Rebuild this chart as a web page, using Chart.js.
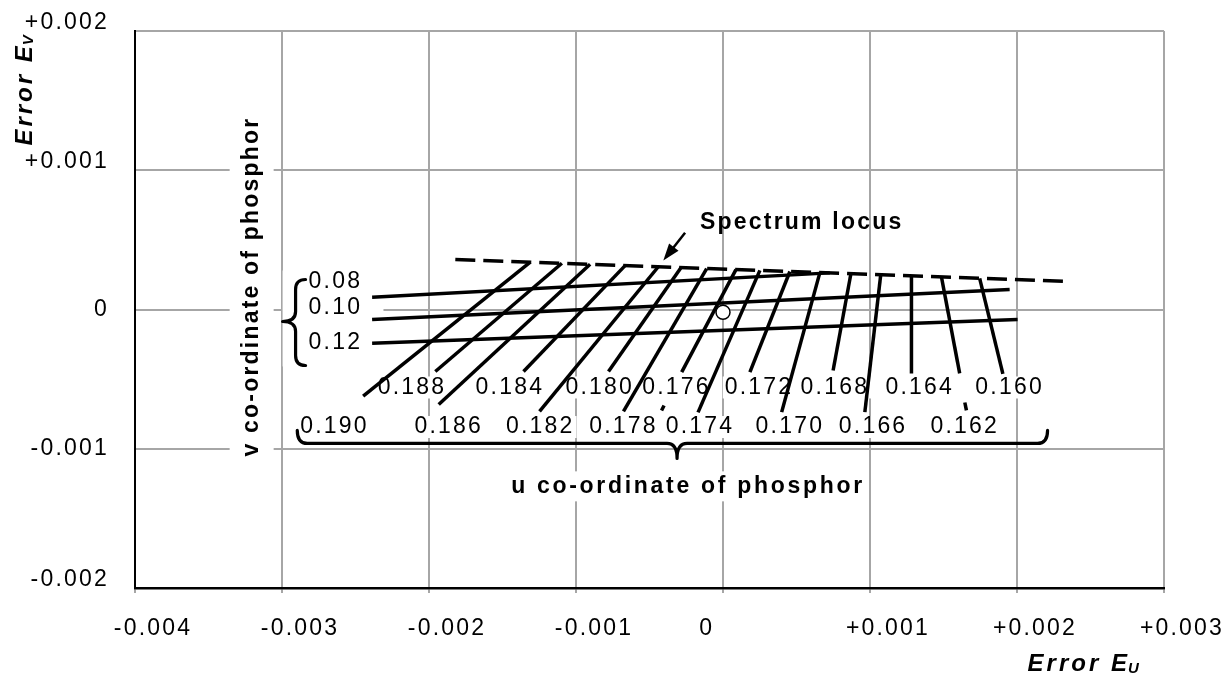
<!DOCTYPE html>
<html><head><meta charset="utf-8">
<script src="https://cdn.jsdelivr.net/npm/chart.js@4/dist/chart.umd.min.js"></script>
<style>html,body{margin:0;padding:0;background:#fff}#c{display:block}</style>
</head><body>
<canvas id="c" width="1230" height="673" style="width:1230px;height:673px"></canvas>
<script>
// ---------- tick labels ----------
const X_TICK_VALUES = [-4, -3, -2, -1, 0, 1, 2, 3];          // thousandths
const X_TICK_LABELS = ['-0.004', '-0.003', '-0.002', '-0.001', '0', '+0.001', '+0.002', '+0.003'];
const Y_TICK_VALUES = [-2, -1, 0, 1, 2];
const Y_TICK_LABELS = ['-0.002', '-0.001', '0', '+0.001', '+0.002'];
const Y_TICK_RAISED = [true, false, false, true, true];      // labels printed slightly above their grid line

// ---------- lines of constant v ----------
const V_LABELS  = ['0.08', '0.10', '0.12'];
const V_X_START = [-0.002387, -0.002387, -0.002387];
const V_Y_START = [0.0000883, -0.0000718, -0.000242];
const V_X_END   = [0.000727, 0.00195, 0.002004];
const V_Y_END   = [0.000263, 0.0001436, -0.0000718];
const V_LABEL_X = [-0.002819, -0.002819, -0.002819];
const V_LABEL_Y = [0.000197, 0.000011, -0.000241];

// ---------- lines of constant u ----------
const U_LABELS = ['0.190','0.188','0.186','0.184','0.182','0.180','0.178','0.176',
                  '0.174','0.172','0.170','0.168','0.166','0.164','0.162','0.160'];
const U_TOP_X = [-0.001311,-0.001096,-0.000904,-0.000666,-0.000440,-0.000285,-0.000111,0.000088,
                  0.000251,0.000455,0.000659,0.000870,0.001073,0.001282,0.001486,0.001746];
const U_TOP_Y = [0.000340,0.000332,0.000325,0.000315,0.000307,0.000301,0.000294,0.000286,
                 0.000281,0.000273,0.000265,0.000257,0.000250,0.000242,0.000234,0.000224];
const U_BOT_X = [-0.002448,-0.001957,-0.001934,-0.001357,-0.001248,-0.000779,-0.000677,-0.000281,
                 -0.000170,0.000183,0.000399,0.000749,0.000965,0.001282,0.001610,0.001904];
const U_BOT_Y = [-0.000622,-0.000445,-0.000682,-0.000445,-0.000732,-0.000445,-0.000732,-0.000450,
                 -0.000739,-0.000450,-0.000737,-0.000438,-0.000737,-0.000459,-0.000459,-0.000462];
const U_LABEL_X = [-0.002643,-0.002116,-0.001866,-0.001450,-0.001243,-0.000839,-0.000677,-0.000316,
                   -0.000156,0.000245,0.000455,0.000761,0.001021,0.001338,0.001644,0.001950];
const U_LABEL_Y = [-0.000844,-0.000560,-0.000844,-0.000560,-0.000844,-0.000560,-0.000844,-0.000560,
                   -0.000844,-0.000560,-0.000844,-0.000560,-0.000844,-0.000560,-0.000844,-0.000560];
// short visible pieces of u lines below the label row
const FRAG_X0 = [-0.000401, 0.001645];
const FRAG_Y0 = [-0.000689, -0.000668];
const FRAG_X1 = [-0.000418, 0.001656];
const FRAG_Y1 = [-0.000725, -0.000725];

// ---------- spectrum locus ----------
const LOCUS_X = [-0.001821, 0.002357];
const LOCUS_Y = [0.000359, 0.000201];

// ---------- marked point ----------
const POINT_X = [0];
const POINT_Y = [-0.00002];

// ---------- annotations (data units) ----------
const ARROW_X = [-0.000258, -0.000406];
const ARROW_Y = [0.000551, 0.000352];
const LOCUS_TEXT = 'Spectrum locus';
const LOCUS_TEXT_POS = [-0.000156, 0.000625];
const V_TITLE = 'v co-ordinate of phosphor';
const V_TITLE_POS = [-0.0032065, 0.000165];
const U_TITLE = 'u co-ordinate of phosphor';
const U_TITLE_POS = [-0.000238, -0.001270];
const V_BRACE = { spine: -0.0029076, tip: -0.0029959, end: -0.0028397, top: 0.0002154, bottom: -0.000402, mid: -0.0000861 };
const U_BRACE = { left: -0.0028961, right: 0.0022079, end: -0.0008686, spine: -0.000962, tipX: -0.0003125, tipY: -0.0010696 };
const V_BOX = [-0.0029959, -0.0023098, 0.00028, -0.000409];
const AXIS_Y_TITLE = ['Error E', 'V'];
const AXIS_Y_TITLE_POS = [-0.004749, 0.001177];
const AXIS_X_TITLE = ['Error E', 'U'];
const AXIS_X_TITLE_POS = [0.002072, -0.002549];

const FONT = '"Liberation Sans", Arial, Helvetica, sans-serif';
const LINE_W = 3.5;

function seg(x0, y0, x1, y1) { return [{x: x0, y: y0}, {x: x1, y: y1}]; }
const lineStyle = { showLine: true, borderColor: '#000', borderWidth: LINE_W, pointRadius: 0, borderCapStyle: 'butt', fill: false };

const datasets = [];
datasets.push({ data: POINT_X.map((x, i) => ({x, y: POINT_Y[i]})), pointRadius: 7, pointBackgroundColor: '#fff',
  pointBorderColor: '#000', pointBorderWidth: 1.5, showLine: false });
V_LABELS.forEach((l, i) => datasets.push(Object.assign({ label: 'v=' + l, data: seg(V_X_START[i], V_Y_START[i], V_X_END[i], V_Y_END[i]) }, lineStyle)));
U_LABELS.forEach((l, i) => datasets.push(Object.assign({ label: 'u=' + l, data: seg(U_TOP_X[i], U_TOP_Y[i], U_BOT_X[i], U_BOT_Y[i]) }, lineStyle)));
FRAG_X0.forEach((x, i) => datasets.push(Object.assign({ label: 'frag' + i, data: seg(x, FRAG_Y0[i], FRAG_X1[i], FRAG_Y1[i]) }, lineStyle)));
datasets.push(Object.assign({ label: 'Spectrum locus', data: seg(LOCUS_X[0], LOCUS_Y[0], LOCUS_X[1], LOCUS_Y[1]) }, lineStyle, { borderDash: [20, 8], borderWidth: 3.6 }));

function drawText(ctx, s, x, y, o) {
  ctx.save();
  ctx.font = o.font; ctx.letterSpacing = (o.ls || 0) + 'px';
  ctx.textAlign = o.align || 'center'; ctx.textBaseline = 'middle';
  ctx.translate(x, y); if (o.rot) ctx.rotate(o.rot);
  if (o.box) {
    const w = ctx.measureText(s).width;
    const x0 = o.align === 'left' ? 0 : o.align === 'right' ? -w : -w / 2;
    ctx.fillStyle = '#fff';
    ctx.fillRect(x0 - o.padX, -o.h / 2 - o.padY, w + 2 * o.padX, o.h + 2 * o.padY);
  }
  ctx.fillStyle = '#000'; ctx.fillText(s, 0, 0);
  ctx.restore();
}

const annot = {
  id: 'annot',
  beforeDraw(chart) { chart.ctx.letterSpacing = '2.2px'; },
  beforeDatasetsDraw(chart) {
    const ctx = chart.ctx, X = v => chart.scales.x.getPixelForValue(v), Y = v => chart.scales.y.getPixelForValue(v);
    ctx.save(); ctx.fillStyle = '#fff';
    ctx.fillRect(X(V_BOX[0]), Y(V_BOX[2]), X(V_BOX[1]) - X(V_BOX[0]), Y(V_BOX[3]) - Y(V_BOX[2]));
    ctx.restore();
    const num = { font: '23px ' + FONT, ls: 2.2, box: true, padX: 2, padY: 1, h: 20 };
    V_LABELS.forEach((l, i) => drawText(ctx, l, X(V_LABEL_X[i]), Y(V_LABEL_Y[i]), Object.assign({}, num, {align: 'left'})));
    U_LABELS.forEach((l, i) => drawText(ctx, l, X(U_LABEL_X[i]), Y(U_LABEL_Y[i]), num));
    const bold = { font: 'bold 23px ' + FONT, ls: 2.2, box: true, padX: 4, padY: 4, h: 22 };
    drawText(ctx, V_TITLE, X(V_TITLE_POS[0]), Y(V_TITLE_POS[1]), Object.assign({}, bold, { rot: -Math.PI / 2, padY: 11, padX: 6 }));
    drawText(ctx, U_TITLE, X(U_TITLE_POS[0]), Y(U_TITLE_POS[1]), Object.assign({}, bold, { ls: 2.7 }));
    drawText(ctx, LOCUS_TEXT, X(LOCUS_TEXT_POS[0]), Y(LOCUS_TEXT_POS[1]), Object.assign({}, bold, { align: 'left', box: false }));
    ctx.save(); ctx.strokeStyle = '#000'; ctx.lineWidth = 3.2; ctx.lineCap = 'round'; ctx.lineJoin = 'round';
    const b = V_BRACE, sx = X(b.spine), tx = X(b.tip), ex = X(b.end), ty = Y(b.top), by = Y(b.bottom), my = Y(b.mid), r = 10;
    ctx.beginPath();
    ctx.moveTo(ex, ty); ctx.quadraticCurveTo(sx, ty, sx, ty + r);
    ctx.lineTo(sx, my - r); ctx.quadraticCurveTo(sx, my, tx, my);
    ctx.quadraticCurveTo(sx, my, sx, my + r);
    ctx.lineTo(sx, by - r); ctx.quadraticCurveTo(sx, by, ex, by);
    ctx.stroke();
    const h = U_BRACE, lx = X(h.left), rx = X(h.right), ey = Y(h.end), spy = Y(h.spine), tpx = X(h.tipX), tpy = Y(h.tipY);
    ctx.beginPath();
    ctx.moveTo(lx, ey); ctx.quadraticCurveTo(lx, spy, lx + r, spy);
    ctx.lineTo(tpx - r, spy); ctx.quadraticCurveTo(tpx, spy, tpx, tpy);
    ctx.quadraticCurveTo(tpx, spy, tpx + r, spy);
    ctx.lineTo(rx - r, spy); ctx.quadraticCurveTo(rx, spy, rx, ey);
    ctx.stroke();
    ctx.restore();
  },
  afterDatasetsDraw(chart) {
    const ctx = chart.ctx, X = v => chart.scales.x.getPixelForValue(v), Y = v => chart.scales.y.getPixelForValue(v);
    const x0 = X(ARROW_X[0]), y0 = Y(ARROW_Y[0]), x1 = X(ARROW_X[1]), y1 = Y(ARROW_Y[1]);
    const a = Math.atan2(y1 - y0, x1 - x0), L = 17, W = 6;
    ctx.save(); ctx.strokeStyle = '#000'; ctx.fillStyle = '#000'; ctx.lineWidth = 2.5;
    ctx.beginPath(); ctx.moveTo(x0, y0); ctx.lineTo(x1 - Math.cos(a) * L * 0.8, y1 - Math.sin(a) * L * 0.8); ctx.stroke();
    ctx.beginPath(); ctx.moveTo(x1, y1);
    ctx.lineTo(x1 - Math.cos(a) * L - Math.sin(a) * W, y1 - Math.sin(a) * L + Math.cos(a) * W);
    ctx.lineTo(x1 - Math.cos(a) * L + Math.sin(a) * W, y1 - Math.sin(a) * L - Math.cos(a) * W);
    ctx.closePath(); ctx.fill();
    ctx.restore();
  },
  afterDraw(chart) {
    const ctx = chart.ctx, X = v => chart.scales.x.getPixelForValue(v), Y = v => chart.scales.y.getPixelForValue(v);
    const big = 'italic bold 24px ' + FONT, small = 'italic bold 15px ' + FONT;
    ctx.save(); ctx.letterSpacing = '3px'; ctx.fillStyle = '#000'; ctx.textBaseline = 'middle'; ctx.textAlign = 'left';
    ctx.translate(X(AXIS_Y_TITLE_POS[0]), Y(AXIS_Y_TITLE_POS[1])); ctx.rotate(-Math.PI / 2);
    ctx.font = big; ctx.fillText(AXIS_Y_TITLE[0], 0, 0);
    let w = ctx.measureText(AXIS_Y_TITLE[0]).width;
    ctx.font = small; ctx.fillText(AXIS_Y_TITLE[1], w - 2, 4);
    ctx.restore();
    ctx.save(); ctx.letterSpacing = '3px'; ctx.fillStyle = '#000'; ctx.textBaseline = 'middle'; ctx.textAlign = 'left';
    ctx.translate(X(AXIS_X_TITLE_POS[0]), Y(AXIS_X_TITLE_POS[1]));
    ctx.font = big; ctx.fillText(AXIS_X_TITLE[0], 0, 0);
    w = ctx.measureText(AXIS_X_TITLE[0]).width;
    ctx.font = small; ctx.fillText(AXIS_X_TITLE[1], w - 2, 4);
    ctx.restore();
  }
};

function xTickLabel(v) {
  const i = X_TICK_VALUES.indexOf(Math.round(v * 1000));
  if (i < 0) return '';
  // the "0" label sits left of its grid line in the original
  return X_TICK_LABELS[i] === '0' ? '0' + '\u00A0'.repeat(8) : X_TICK_LABELS[i];
}
function yTickLabel(v) {
  const i = Y_TICK_VALUES.indexOf(Math.round(v * 1000));
  if (i < 0) return '';
  return Y_TICK_RAISED[i] ? [Y_TICK_LABELS[i], ''] : Y_TICK_LABELS[i];
}

new Chart(document.getElementById('c'), {
  type: 'scatter',
  data: { datasets },
  options: {
    responsive: false, animation: false, devicePixelRatio: 1,
    layout: { padding: { top: 31, right: 66, left: 0, bottom: 0 } },
    plugins: { legend: { display: false }, tooltip: { enabled: false } },
    scales: {
      x: {
        type: 'linear', min: -0.004, max: 0.003,
        ticks: { stepSize: 0.001, callback: xTickLabel, color: '#000',
                 font: { family: FONT, size: 23 }, padding: 22, labelOffset: 18, maxRotation: 0, autoSkip: false },
        grid: { color: '#a6a6a6', lineWidth: 2, tickLength: 5 },
        border: { color: '#000', width: 2.5 },
        afterFit(s) { s.height = 85; s.paddingLeft = 0; s.paddingRight = 0; }
      },
      y: {
        type: 'linear', min: -0.002, max: 0.002,
        ticks: { stepSize: 0.001, callback: yTickLabel, color: '#000',
                 font: { family: FONT, size: 23, lineHeight: 0.73 }, padding: 26 },
        grid: { color: '#a6a6a6', lineWidth: 2, drawTicks: false },
        border: { color: '#000', width: 2 },
        afterFit(s) { s.width = 135; s.paddingTop = 0; s.paddingBottom = 0; }
      }
    }
  },
  plugins: [annot]
});
</script>
</body></html>
